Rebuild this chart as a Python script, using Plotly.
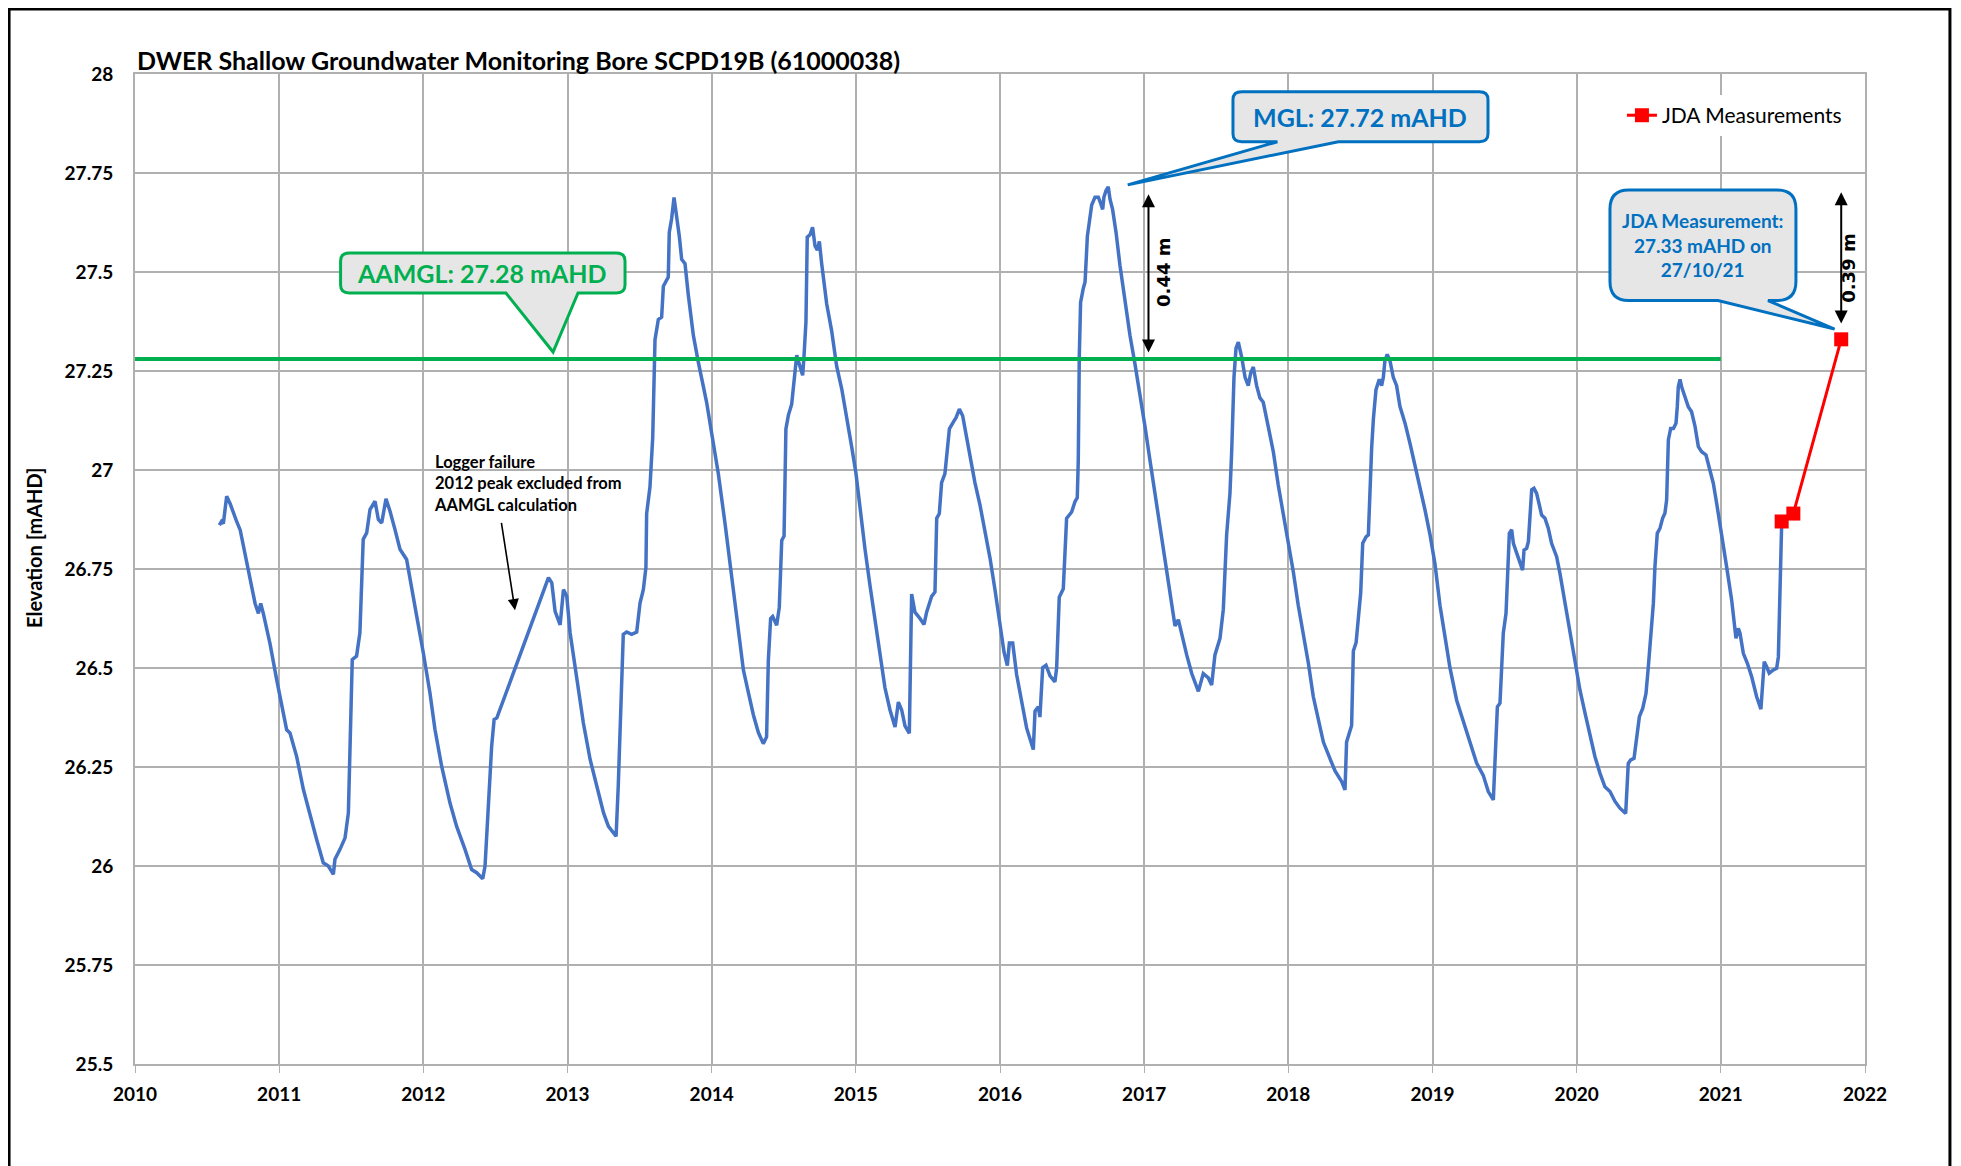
import plotly.graph_objects as go

# ---------------- data ----------------
logger_years = [
    2010.585, 2010.600, 2010.613, 2010.636, 2010.660, 2010.682, 2010.705, 2010.730, 2010.763, 2010.798,
    2010.833, 2010.856, 2010.872, 2010.890, 2010.936, 2010.983, 2011.017, 2011.052, 2011.075, 2011.121,
    2011.168, 2011.214, 2011.260, 2011.306, 2011.341, 2011.376, 2011.387, 2011.422, 2011.457, 2011.480,
    2011.491, 2011.507, 2011.537, 2011.560, 2011.583, 2011.607, 2011.630, 2011.665, 2011.688, 2011.711,
    2011.741, 2011.769, 2011.803, 2011.838, 2011.884, 2011.919, 2011.954, 2012.000, 2012.046, 2012.081,
    2012.127, 2012.185, 2012.231, 2012.289, 2012.335, 2012.370, 2012.412, 2012.428, 2012.451, 2012.474,
    2012.491, 2012.510, 2012.868, 2012.891, 2012.914, 2012.949, 2012.972, 2012.995, 2013.018, 2013.064,
    2013.110, 2013.157, 2013.203, 2013.250, 2013.284, 2013.337, 2013.352, 2013.369, 2013.387, 2013.410,
    2013.445, 2013.480, 2013.503, 2013.526, 2013.544, 2013.549, 2013.572, 2013.591, 2013.600, 2013.607,
    2013.630, 2013.653, 2013.665, 2013.683, 2013.699, 2013.706, 2013.722, 2013.739, 2013.757, 2013.776,
    2013.792, 2013.815, 2013.838, 2013.873, 2013.907, 2013.942, 2013.965, 2014.000, 2014.046, 2014.092,
    2014.139, 2014.173, 2014.220, 2014.254, 2014.289, 2014.324, 2014.358, 2014.381, 2014.393, 2014.409,
    2014.423, 2014.451, 2014.469, 2014.486, 2014.502, 2014.515, 2014.532, 2014.555, 2014.571, 2014.590,
    2014.608, 2014.631, 2014.640, 2014.654, 2014.663, 2014.682, 2014.700, 2014.717, 2014.733, 2014.747,
    2014.763, 2014.798, 2014.832, 2014.867, 2014.902, 2014.936, 2014.971, 2015.001, 2015.029, 2015.064,
    2015.098, 2015.133, 2015.168, 2015.202, 2015.237, 2015.272, 2015.295, 2015.318, 2015.341, 2015.371,
    2015.387, 2015.410, 2015.445, 2015.473, 2015.491, 2015.526, 2015.549, 2015.561, 2015.579, 2015.595,
    2015.618, 2015.649, 2015.676, 2015.695, 2015.718, 2015.741, 2015.769, 2015.803, 2015.826, 2015.861,
    2015.896, 2015.931, 2015.965, 2016.000, 2016.028, 2016.051, 2016.065, 2016.088, 2016.115, 2016.150,
    2016.185, 2016.231, 2016.243, 2016.266, 2016.277, 2016.296, 2016.319, 2016.347, 2016.381, 2016.393,
    2016.411, 2016.439, 2016.451, 2016.462, 2016.497, 2016.520, 2016.536, 2016.543, 2016.550, 2016.559,
    2016.578, 2016.590, 2016.606, 2016.624, 2016.636, 2016.659, 2016.682, 2016.698, 2016.712, 2016.721,
    2016.735, 2016.751, 2016.763, 2016.781, 2016.805, 2016.832, 2016.867, 2016.902, 2016.937, 2016.971,
    2017.006, 2017.040, 2017.075, 2017.110, 2017.145, 2017.179, 2017.214, 2017.237, 2017.260, 2017.295,
    2017.330, 2017.376, 2017.410, 2017.445, 2017.468, 2017.491, 2017.526, 2017.549, 2017.572, 2017.595,
    2017.607, 2017.623, 2017.637, 2017.653, 2017.676, 2017.700, 2017.722, 2017.739, 2017.757, 2017.780,
    2017.803, 2017.826, 2017.861, 2017.896, 2017.930, 2017.965, 2018.000, 2018.035, 2018.069, 2018.104,
    2018.139, 2018.173, 2018.208, 2018.243, 2018.289, 2018.324, 2018.370, 2018.393, 2018.404, 2018.428,
    2018.439, 2018.451, 2018.470, 2018.486, 2018.502, 2018.516, 2018.539, 2018.555, 2018.566, 2018.578,
    2018.590, 2018.608, 2018.631, 2018.647, 2018.659, 2018.670, 2018.686, 2018.705, 2018.728, 2018.751,
    2018.774, 2018.809, 2018.844, 2018.878, 2018.913, 2018.948, 2018.983, 2019.017, 2019.052, 2019.087,
    2019.121, 2019.168, 2019.214, 2019.260, 2019.306, 2019.352, 2019.387, 2019.422, 2019.433, 2019.450,
    2019.468, 2019.480, 2019.491, 2019.510, 2019.519, 2019.533, 2019.549, 2019.561, 2019.584, 2019.607,
    2019.625, 2019.635, 2019.653, 2019.665, 2019.676, 2019.688, 2019.704, 2019.722, 2019.741, 2019.757,
    2019.780, 2019.803, 2019.826, 2019.861, 2019.884, 2019.919, 2019.954, 2019.988, 2020.023, 2020.058,
    2020.092, 2020.127, 2020.162, 2020.196, 2020.231, 2020.266, 2020.300, 2020.340, 2020.358, 2020.375,
    2020.398, 2020.416, 2020.435, 2020.458, 2020.481, 2020.497, 2020.513, 2020.532, 2020.543, 2020.559,
    2020.578, 2020.596, 2020.612, 2020.624, 2020.636, 2020.652, 2020.671, 2020.689, 2020.698, 2020.705,
    2020.717, 2020.728, 2020.751, 2020.774, 2020.797, 2020.821, 2020.844, 2020.867, 2020.897, 2020.920,
    2020.948, 2020.971, 2021.006, 2021.040, 2021.075, 2021.105, 2021.121, 2021.133, 2021.156, 2021.184,
    2021.214, 2021.248, 2021.278, 2021.290, 2021.301, 2021.318, 2021.336, 2021.364, 2021.387, 2021.399,
    2021.410, 2021.422,
]
logger_levels = [
    26.861, 26.870, 26.865, 26.934, 26.915, 26.890, 26.870, 26.848, 26.785, 26.722,
    26.663, 26.638, 26.663, 26.638, 26.562, 26.470, 26.403, 26.344, 26.336, 26.277,
    26.193, 26.126, 26.067, 26.008, 26.000, 25.979, 26.017, 26.042, 26.071, 26.134,
    26.319, 26.521, 26.530, 26.589, 26.825, 26.841, 26.900, 26.921, 26.875, 26.866,
    26.927, 26.896, 26.850, 26.800, 26.774, 26.707, 26.631, 26.538, 26.437, 26.344,
    26.252, 26.159, 26.100, 26.042, 25.991, 25.983, 25.968, 26.000, 26.151, 26.303,
    26.370, 26.374, 26.728, 26.715, 26.643, 26.609, 26.698, 26.681, 26.589, 26.470,
    26.361, 26.269, 26.201, 26.134, 26.100, 26.075, 26.202, 26.388, 26.585, 26.591,
    26.585, 26.591, 26.664, 26.698, 26.754, 26.890, 26.957, 27.081, 27.284, 27.329,
    27.380, 27.386, 27.464, 27.476, 27.487, 27.600, 27.634, 27.688, 27.645, 27.589,
    27.532, 27.521, 27.442, 27.340, 27.273, 27.216, 27.171, 27.093, 26.991, 26.867,
    26.732, 26.619, 26.495, 26.439, 26.382, 26.337, 26.309, 26.326, 26.518, 26.625,
    26.630, 26.608, 26.653, 26.822, 26.833, 27.104, 27.138, 27.166, 27.228, 27.290,
    27.267, 27.239, 27.284, 27.374, 27.588, 27.594, 27.613, 27.566, 27.555, 27.577,
    27.521, 27.419, 27.352, 27.262, 27.205, 27.126, 27.059, 26.991, 26.901, 26.799,
    26.709, 26.619, 26.529, 26.450, 26.394, 26.351, 26.414, 26.394, 26.354, 26.335,
    26.687, 26.641, 26.625, 26.610, 26.641, 26.681, 26.692, 26.878, 26.890, 26.968,
    26.991, 27.104, 27.121, 27.132, 27.154, 27.137, 27.081, 27.013, 26.968, 26.912,
    26.844, 26.777, 26.698, 26.608, 26.540, 26.506, 26.563, 26.563, 26.484, 26.416,
    26.348, 26.294, 26.391, 26.402, 26.376, 26.501, 26.507, 26.480, 26.465, 26.501,
    26.679, 26.700, 26.794, 26.878, 26.894, 26.920, 26.930, 27.025, 27.286, 27.423,
    27.459, 27.475, 27.590, 27.642, 27.669, 27.689, 27.689, 27.674, 27.658, 27.689,
    27.705, 27.715, 27.684, 27.658, 27.600, 27.517, 27.423, 27.339, 27.266, 27.192,
    27.109, 27.025, 26.941, 26.857, 26.763, 26.690, 26.606, 26.622, 26.585, 26.533,
    26.486, 26.441, 26.486, 26.475, 26.457, 26.533, 26.575, 26.648, 26.836, 26.941,
    27.046, 27.234, 27.307, 27.323, 27.286, 27.234, 27.213, 27.245, 27.260, 27.213,
    27.182, 27.171, 27.109, 27.046, 26.962, 26.889, 26.815, 26.742, 26.658, 26.585,
    26.512, 26.428, 26.365, 26.313, 26.271, 26.240, 26.213, 26.192, 26.313, 26.344,
    26.355, 26.543, 26.564, 26.627, 26.690, 26.815, 26.831, 26.836, 26.972, 27.056,
    27.129, 27.203, 27.229, 27.213, 27.234, 27.276, 27.292, 27.276, 27.234, 27.213,
    27.161, 27.119, 27.067, 27.014, 26.951, 26.899, 26.836, 26.763, 26.658, 26.575,
    26.501, 26.418, 26.365, 26.313, 26.260, 26.229, 26.188, 26.167, 26.276, 26.402,
    26.411, 26.487, 26.588, 26.638, 26.739, 26.840, 26.849, 26.815, 26.790, 26.764,
    26.747, 26.798, 26.802, 26.819, 26.874, 26.950, 26.954, 26.941, 26.912, 26.886,
    26.878, 26.853, 26.815, 26.781, 26.739, 26.663, 26.588, 26.512, 26.444, 26.386,
    26.327, 26.276, 26.234, 26.200, 26.188, 26.163, 26.146, 26.133, 26.259, 26.268,
    26.272, 26.318, 26.377, 26.398, 26.436, 26.503, 26.588, 26.663, 26.756, 26.840,
    26.853, 26.878, 26.891, 26.924, 27.076, 27.105, 27.105, 27.118, 27.160, 27.210,
    27.229, 27.210, 27.185, 27.160, 27.147, 27.110, 27.059, 27.046, 27.038, 27.008,
    26.966, 26.916, 26.840, 26.756, 26.672, 26.575, 26.600, 26.588, 26.537, 26.512,
    26.478, 26.428, 26.396, 26.461, 26.516, 26.503, 26.487, 26.495, 26.499, 26.528,
    26.697, 26.865,
]

jda_years = [2021.422, 2021.503, 2021.835]
jda_levels = [26.87, 26.89, 27.33]

aamgl_years = [2010, 2021]
aamgl_level = 27.28
mgl_level = 27.72

x_tickvals = [2010, 2011, 2012, 2013, 2014, 2015, 2016, 2017, 2018, 2019, 2020, 2021, 2022]
x_ticktext = ["2010", "2011", "2012", "2013", "2014", "2015", "2016", "2017", "2018", "2019", "2020", "2021", "2022"]
y_tickvals = [25.5, 25.75, 26, 26.25, 26.5, 26.75, 27, 27.25, 27.5, 27.75, 28]
y_ticktext = ["25.5", "25.75", "26", "26.25", "26.5", "26.75", "27", "27.25", "27.5", "27.75", "28"]

# ---------------- styling ----------------
FONT = "Lato"
GREEN = "#00b050"
BLUE_TXT = "#0070c0"
LINE_BLUE = "#4472c4"
GRID = "#b0b0b0"
BOX_FILL = "#e7e6e6"

fig = go.Figure()

fig.add_trace(go.Scatter(
    x=logger_years, y=logger_levels, mode="lines",
    line=dict(color=LINE_BLUE, width=3.5), showlegend=False, name="Logger"))

fig.add_trace(go.Scatter(
    x=aamgl_years, y=[aamgl_level] * len(aamgl_years), mode="lines",
    line=dict(color=GREEN, width=4), showlegend=False, name="AAMGL"))

fig.add_trace(go.Scatter(
    x=jda_years, y=jda_levels, mode="lines+markers", name="JDA Measurements",
    line=dict(color="#ff0000", width=3),
    marker=dict(symbol="square", size=14, color="#ff0000")))


def callout(x0, x1, y0, y1, bx0, bx1, tx, ty, rx, ry):
    return (f"M {x0+rx},{y1} L {x1-rx},{y1} Q {x1},{y1} {x1},{y1-ry} "
            f"L {x1},{y0+ry} Q {x1},{y0} {x1-rx},{y0} L {bx1},{y0} L {tx},{ty} L {bx0},{y0} "
            f"L {x0+rx},{y0} Q {x0},{y0} {x0},{y0+ry} L {x0},{y1-ry} Q {x0},{y1} {x0+rx},{y1} Z")


shapes = []
shapes.append(dict(type="path", xref="x", yref="y",
                   path=callout(2011.426, 2013.399, 27.447, 27.548, 2012.573, 2013.073, 2012.90, 27.298, 0.06, 0.02),
                   fillcolor=BOX_FILL, line=dict(color=GREEN, width=3), layer="above"))
shapes.append(dict(type="path", xref="x", yref="y",
                   path=callout(2017.616, 2019.385, 27.829, 27.955, 2017.924, 2018.347, 2016.886, 27.72, 0.06, 0.02),
                   fillcolor=BOX_FILL, line=dict(color=BLUE_TXT, width=3), layer="above"))
shapes.append(dict(type="path", xref="x", yref="y",
                   path=callout(2020.231, 2021.521, 27.428, 27.707, 2020.98, 2021.327, 2021.789, 27.356, 0.13, 0.048),
                   fillcolor=BOX_FILL, line=dict(color=BLUE_TXT, width=3), layer="above"))
# outer frame (open at the bottom, beyond the page)
shapes.append(dict(type="rect", xref="paper", yref="paper",
                   x0=-0.0728, x1=1.0491, y0=-0.2, y1=1.0657,
                   line=dict(color="black", width=3), fillcolor="rgba(0,0,0,0)", layer="above"))

annotations = [
    dict(x=0, xref="paper", y=1.0, yref="paper", yshift=14, xanchor="left", yanchor="middle",
         text="DWER Shallow Groundwater Monitoring Bore SCPD19B (61000038)", showarrow=False,
         font=dict(family=FONT, size=25, color="black", weight="bold")),
    dict(x=-0.0584, xref="paper", y=26.803, yref="y", text="Elevation [mAHD]", textangle=-90,
         xanchor="center", yanchor="middle", showarrow=False,
         font=dict(family=FONT, size=20, color="black", weight="bold")),
    dict(x=2012.41, y=27.497, text="AAMGL: 27.28 mAHD", showarrow=False,
         font=dict(family=FONT, size=25, color=GREEN, weight="bold")),
    dict(x=2018.50, y=27.892, text="MGL: 27.72 mAHD", showarrow=False,
         font=dict(family=FONT, size=25, color=BLUE_TXT, weight="bold")),
    dict(x=2020.876, y=27.567, text="JDA Measurement:<br>27.33 mAHD on<br>27/10/21", showarrow=False,
         font=dict(family=FONT, size=19, color=BLUE_TXT, weight="bold")),
    dict(x=2012.06, y=26.967, text="Logger failure<br>2012 peak excluded from<br>AAMGL calculation",
         showarrow=False, xanchor="left", align="left",
         font=dict(family=FONT, size=16.5, color="black", weight="bold")),
    dict(x=2012.636, y=26.646, ax=2012.54, ay=26.87, axref="x", ayref="y", text="",
         showarrow=True, arrowhead=2, arrowsize=1.4, arrowwidth=1.6, arrowcolor="black"),
    dict(x=2017.03, y=27.297, ax=2017.03, ay=27.70, axref="x", ayref="y", text="",
         showarrow=True, arrowhead=2, startarrowhead=2, arrowside="end+start",
         arrowsize=1.3, startarrowsize=1.3, arrowwidth=2, arrowcolor="black"),
    dict(x=2017.13, y=27.5, text="0.44 m", textangle=-90, showarrow=False,
         font=dict(family="DejaVu Sans", size=18, color="black", weight="bold")),
    dict(x=2021.835, y=27.37, ax=2021.835, ay=27.705, axref="x", ayref="y", text="",
         showarrow=True, arrowhead=2, startarrowhead=2, arrowside="end+start",
         arrowsize=1.3, startarrowsize=1.3, arrowwidth=2, arrowcolor="black"),
    dict(x=2021.88, y=27.51, text="0.39 m", textangle=-90, showarrow=False,
         font=dict(family="DejaVu Sans", size=18, color="black", weight="bold")),
]

fig.update_layout(
    width=1953, height=1158,
    margin=dict(l=127, r=96, t=66, b=102),
    paper_bgcolor="white", plot_bgcolor="white",
    font=dict(family=FONT, color="black"),
    shapes=shapes, annotations=annotations,
    legend=dict(x=0.8595, y=0.958, xanchor="left", yanchor="middle", bgcolor="white",
                font=dict(family=FONT, size=21, color="black"), borderwidth=0,
                itemwidth=30),
    showlegend=True,
)

fig.update_xaxes(
    range=[2010, 2022], tickvals=x_tickvals, ticktext=x_ticktext,
    showgrid=True, gridcolor=GRID, gridwidth=2,
    showline=True, linecolor=GRID, linewidth=2, mirror=True,
    ticks="outside", ticklen=7, tickcolor=GRID, tickwidth=1,
    tickfont=dict(family=FONT, size=19, color="black", weight="bold"),
    ticklabelstandoff=5, zeroline=False,
)
fig.update_yaxes(
    range=[25.5, 28], tickvals=y_tickvals, ticktext=y_ticktext,
    showgrid=True, gridcolor=GRID, gridwidth=2,
    showline=True, linecolor=GRID, linewidth=2, mirror=True,
    ticks="", tickfont=dict(family=FONT, size=19, color="black", weight="bold"),
    ticklabelstandoff=16, zeroline=False,
)

fig.write_html("out.html")
